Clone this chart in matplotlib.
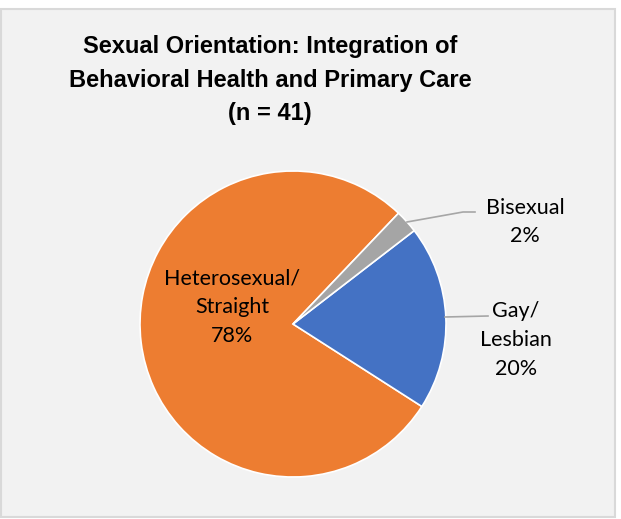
import matplotlib.pyplot as plt
from matplotlib.patches import Rectangle

labels = ["Heterosexual/\nStraight", "Gay/\nLesbian", "Bisexual"]
counts = [32, 8, 1]
pcts = ["78%", "20%", "2%"]
colors = ["#ed7d31", "#4472c4", "#a5a5a5"]

fig = plt.figure(figsize=(6.21, 5.19), dpi=100)
fig.patch.set_facecolor("white")

# chart frame
fig.patches.append(Rectangle((1 / 621, 2 / 519), 614 / 621, 508 / 519,
                             transform=fig.transFigure, facecolor="#f2f2f2",
                             edgecolor="#d9d9d9", linewidth=1.5, zorder=-1))

fig.text(270 / 621, 1 - 80 / 519,
         "Sexual Orientation: Integration of\nBehavioral Health and Primary Care\n(n = 41)",
         ha="center", va="center", fontsize=17, fontweight="bold",
         family="Liberation Sans", linespacing=1.58)

cx, cy, r = 293, 324, 153
ax = fig.add_axes([(cx - r) / 621, (519 - cy - r) / 519, 2 * r / 621, 2 * r / 519])
ax.set_facecolor("none")
ax.pie(counts, colors=colors, startangle=46.4, counterclock=True, radius=1,
       wedgeprops=dict(edgecolor="white", linewidth=1.2))
ax.set_xlim(-1, 1)
ax.set_ylim(-1, 1)
ax.set_aspect("equal")
ax.axis("off")

lab_font = dict(family="Lato", fontsize=15.5, ha="center", va="center",
                linespacing=1.55, clip_on=False)

def px(x, y):
    return (x - cx) / r, (cy - y) / r

ax.text(*px(232, 307), labels[0] + "\n" + pcts[0], **lab_font)
ax.text(*px(516, 340), labels[1] + "\n" + pcts[1], **lab_font)
ax.text(*px(525, 222), labels[2] + "\n" + pcts[2], **lab_font)

# leader lines
for pts in ([(407, 222), (463, 212), (475, 212)], [(445, 317), (488, 316)]):
    xs, ys = zip(*[px(*p) for p in pts])
    ax.plot(xs, ys, color="#a6a6a6", linewidth=1.2, clip_on=False)

fig.savefig("out.png", dpi=100, facecolor=fig.get_facecolor())
